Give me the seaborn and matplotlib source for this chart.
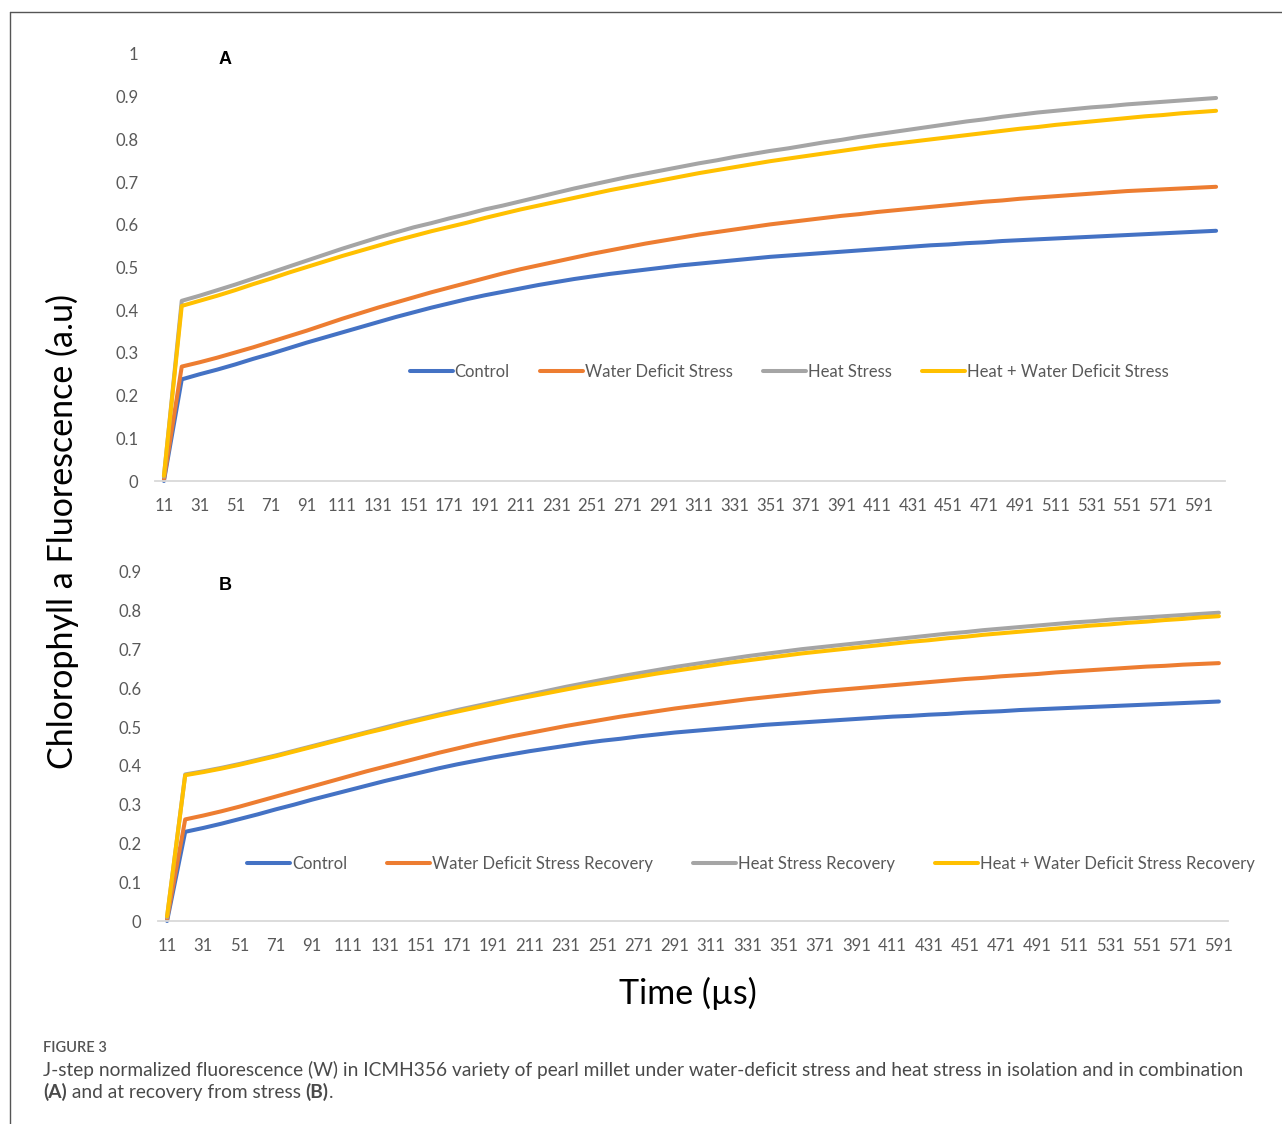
import matplotlib
matplotlib.use("Agg")
import matplotlib.pyplot as plt
import pandas as pd
import seaborn as sns
from matplotlib.lines import Line2D

# ---- data -----------------------------------------------------------------
time_a = list(range(11, 602, 10))   # 11 ... 601 µs
time_b = list(range(11, 592, 10))   # 11 ... 591 µs
tick_values = list(range(11, 592, 20))

series_a = ["Control", "Water Deficit Stress", "Heat Stress",
            "Heat + Water Deficit Stress"]
series_b = ["Control", "Water Deficit Stress Recovery", "Heat Stress Recovery",
            "Heat + Water Deficit Stress Recovery"]

control_a = [0.000, 0.238, 0.250, 0.261, 0.273, 0.286, 0.298, 0.311, 0.324, 0.336,
             0.348, 0.360, 0.372, 0.384, 0.395, 0.406, 0.416, 0.426, 0.435, 0.443,
             0.451, 0.459, 0.466, 0.473, 0.479, 0.485, 0.490, 0.495, 0.500, 0.505,
             0.509, 0.513, 0.517, 0.521, 0.525, 0.528, 0.531, 0.534, 0.537, 0.540,
             0.543, 0.546, 0.549, 0.552, 0.554, 0.557, 0.559, 0.562, 0.564, 0.566,
             0.568, 0.570, 0.572, 0.574, 0.576, 0.578, 0.580, 0.582, 0.584, 0.586]
water_a = [0.003, 0.268, 0.278, 0.289, 0.301, 0.313, 0.326, 0.339, 0.352, 0.366,
           0.380, 0.393, 0.406, 0.418, 0.430, 0.442, 0.453, 0.464, 0.475, 0.486,
           0.496, 0.505, 0.514, 0.523, 0.532, 0.540, 0.548, 0.556, 0.563, 0.570,
           0.577, 0.583, 0.589, 0.595, 0.601, 0.606, 0.611, 0.616, 0.621, 0.625,
           0.630, 0.634, 0.638, 0.642, 0.646, 0.650, 0.654, 0.657, 0.661, 0.664,
           0.667, 0.670, 0.673, 0.676, 0.679, 0.681, 0.683, 0.685, 0.687, 0.689]
heat_a = [0.010, 0.422, 0.434, 0.447, 0.460, 0.474, 0.488, 0.502, 0.516, 0.530,
          0.544, 0.557, 0.570, 0.582, 0.594, 0.604, 0.615, 0.625, 0.636, 0.645,
          0.655, 0.665, 0.675, 0.685, 0.694, 0.703, 0.712, 0.720, 0.728, 0.736,
          0.744, 0.751, 0.759, 0.766, 0.773, 0.779, 0.786, 0.793, 0.799, 0.806,
          0.812, 0.818, 0.824, 0.830, 0.836, 0.842, 0.847, 0.853, 0.858, 0.863,
          0.867, 0.871, 0.875, 0.878, 0.882, 0.885, 0.888, 0.891, 0.894, 0.897]
heat_water_a = [0.012, 0.410, 0.422, 0.434, 0.447, 0.461, 0.474, 0.488, 0.501, 0.514,
                0.527, 0.539, 0.551, 0.563, 0.574, 0.585, 0.595, 0.605, 0.616, 0.626,
                0.636, 0.645, 0.654, 0.663, 0.672, 0.681, 0.689, 0.697, 0.705, 0.713,
                0.721, 0.728, 0.735, 0.742, 0.749, 0.755, 0.761, 0.767, 0.773, 0.779,
                0.785, 0.790, 0.795, 0.800, 0.805, 0.810, 0.815, 0.820, 0.825, 0.829,
                0.834, 0.838, 0.842, 0.846, 0.850, 0.854, 0.857, 0.861, 0.864, 0.867]

control_b = [0.000, 0.230, 0.240, 0.251, 0.263, 0.275, 0.288, 0.300, 0.313, 0.325,
             0.337, 0.349, 0.361, 0.372, 0.383, 0.394, 0.404, 0.413, 0.422, 0.430,
             0.438, 0.445, 0.452, 0.459, 0.465, 0.470, 0.476, 0.481, 0.486, 0.490,
             0.494, 0.498, 0.502, 0.506, 0.509, 0.512, 0.515, 0.518, 0.521, 0.524,
             0.527, 0.529, 0.532, 0.534, 0.537, 0.539, 0.541, 0.544, 0.546, 0.548,
             0.550, 0.552, 0.554, 0.556, 0.558, 0.560, 0.562, 0.564, 0.566]
water_b = [0.005, 0.262, 0.272, 0.283, 0.295, 0.308, 0.321, 0.334, 0.347, 0.360,
           0.373, 0.386, 0.398, 0.410, 0.422, 0.434, 0.445, 0.456, 0.466, 0.476,
           0.485, 0.494, 0.503, 0.511, 0.519, 0.527, 0.534, 0.541, 0.548, 0.554,
           0.560, 0.566, 0.572, 0.577, 0.582, 0.587, 0.592, 0.596, 0.600, 0.604,
           0.608, 0.612, 0.616, 0.620, 0.624, 0.627, 0.631, 0.634, 0.637, 0.641,
           0.644, 0.647, 0.650, 0.653, 0.656, 0.658, 0.661, 0.663, 0.665]
heat_b = [0.010, 0.378, 0.386, 0.395, 0.405, 0.416, 0.427, 0.439, 0.451, 0.463,
          0.475, 0.487, 0.499, 0.511, 0.522, 0.533, 0.544, 0.554, 0.564, 0.574,
          0.584, 0.594, 0.604, 0.613, 0.622, 0.631, 0.639, 0.647, 0.655, 0.662,
          0.669, 0.676, 0.683, 0.689, 0.695, 0.701, 0.706, 0.711, 0.716, 0.721,
          0.726, 0.731, 0.736, 0.741, 0.745, 0.750, 0.754, 0.758, 0.762, 0.766,
          0.770, 0.773, 0.777, 0.780, 0.783, 0.786, 0.789, 0.792, 0.795]
heat_water_b = [0.012, 0.376, 0.384, 0.393, 0.403, 0.414, 0.425, 0.437, 0.449, 0.461,
                0.473, 0.485, 0.496, 0.508, 0.519, 0.530, 0.540, 0.550, 0.560, 0.570,
                0.579, 0.588, 0.597, 0.606, 0.614, 0.622, 0.630, 0.638, 0.645, 0.652,
                0.659, 0.666, 0.672, 0.678, 0.684, 0.690, 0.695, 0.700, 0.705, 0.710,
                0.715, 0.720, 0.724, 0.729, 0.733, 0.738, 0.742, 0.746, 0.750, 0.754,
                0.758, 0.762, 0.765, 0.769, 0.772, 0.776, 0.779, 0.783, 0.786]

colors = ["#4472C4", "#ED7D31", "#A5A5A5", "#FFC000"]

# ---- style ----------------------------------------------------------------
sns.set_theme(style="white")
plt.rcParams["font.family"] = ["Lato", "DejaVu Sans"]
TICK_COLOR = "#595959"
LW = 2.9


def long_frame(times, names, columns):
    rows = []
    for name, values in zip(names, columns):
        for t, v in zip(times, values):
            rows.append({"time": t, "value": v, "series": name})
    return pd.DataFrame(rows)


def draw_panel(ax, times, names, columns, ymax, yticks, xlim):
    df = long_frame(times, names, columns)
    sns.lineplot(data=df, x="time", y="value", hue="series", hue_order=names,
                 palette=colors, linewidth=LW, estimator=None, sort=False,
                 legend=False, ax=ax)
    for line in ax.get_lines():
        line.set_solid_capstyle("round")
        line.set_solid_joinstyle("round")
        line.set_clip_on(False)
    ax.set_xlim(*xlim)
    ax.set_ylim(0, ymax)
    ax.set_xticks(tick_values)
    ax.set_xticklabels([str(v) for v in tick_values])
    ax.set_yticks(yticks)
    ax.set_yticklabels([f"{v:g}" for v in yticks])
    ax.set_xlabel("")
    ax.set_ylabel("")
    for side in ("top", "right", "left"):
        ax.spines[side].set_visible(False)
    ax.spines["bottom"].set_color("#d9d9d9")
    ax.spines["bottom"].set_linewidth(1.3)
    ax.tick_params(axis="both", length=0, labelsize=12, labelcolor=TICK_COLOR)
    ax.tick_params(axis="x", pad=12)
    ax.tick_params(axis="y", pad=12)


W, H = 1282, 1124
fig = plt.figure(figsize=(W / 100, H / 100), dpi=100)


def fx(px):
    return px / W


def fy(py):
    return 1 - py / H


ax_a = fig.add_axes([fx(155), fy(481), fx(1225) - fx(155), fy(54) - fy(481)])
ax_b = fig.add_axes([fx(158), fy(921), fx(1228) - fx(158), fy(572) - fy(921)])

draw_panel(ax_a, time_a, series_a, [control_a, water_a, heat_a, heat_water_a],
           1.0, [round(0.1 * i, 1) for i in range(11)], (6, 606))
draw_panel(ax_b, time_b, series_b, [control_b, water_b, heat_b, heat_water_b],
           0.9, [round(0.1 * i, 1) for i in range(10)], (6, 596))

# legends
for ax, names, cx, cy, spacing in ((ax_a, series_a, 789, 372, 1.8),
                                   (ax_b, series_b, 751, 864, 2.4)):
    handles = [Line2D([], [], color=c, lw=LW, solid_capstyle="round") for c in colors]
    leg = ax.legend(handles, names, loc="center", ncol=4, frameon=False,
                    bbox_to_anchor=(fx(cx), fy(cy)), bbox_transform=fig.transFigure,
                    fontsize=12, handlelength=2.6, handletextpad=0.1,
                    columnspacing=spacing, borderaxespad=0)
    for txt in leg.get_texts():
        txt.set_color(TICK_COLOR)

# panel letters
for lab, py in (("A", 59), ("B", 586)):
    fig.text(fx(225), fy(py), lab, ha="center", va="center", fontsize=13,
             fontweight="bold", color="black", family=["Liberation Sans", "DejaVu Sans"])

# shared axis titles
fig.text(fx(62), fy(532), "Chlorophyll a Fluorescence (a.u)", rotation=90,
         ha="center", va="center", fontsize=24.5, color="black")
fig.text(fx(688), fy(993), "Time (µs)", ha="center", va="center",
         fontsize=24.5, color="black")

# figure caption
CAP = "#4a4a4a"
CAP_SIZE = 13.8
fig.text(fx(43), fy(1048), "FIGURE 3", ha="left", va="center", fontsize=10.5,
         color="#555555", fontweight="semibold")
fig.text(fx(43), fy(1070),
         "J-step normalized fluorescence (W) in ICMH356 variety of pearl millet under "
         "water-deficit stress and heat stress in isolation and in combination",
         ha="left", va="center", fontsize=CAP_SIZE, color=CAP)
t1 = fig.text(fx(43), fy(1092), "(A)", ha="left", va="center", fontsize=CAP_SIZE,
              color=CAP, fontweight="bold")
a2 = ax_b.annotate(" and at recovery from stress ", xy=(1, 0), xycoords=t1,
                   ha="left", va="bottom", fontsize=CAP_SIZE, color=CAP,
                   annotation_clip=False)
a3 = ax_b.annotate("(B)", xy=(1, 0), xycoords=a2, ha="left", va="bottom",
                   fontsize=CAP_SIZE, color=CAP, fontweight="bold",
                   annotation_clip=False)
ax_b.annotate(".", xy=(1, 0), xycoords=a3, ha="left", va="bottom",
              fontsize=CAP_SIZE, color=CAP, annotation_clip=False)

# frame lines along the top and left edges
fig.add_artist(Line2D([fx(10), 1], [fy(12), fy(12)], color="#555555", lw=1,
                      transform=fig.transFigure))
fig.add_artist(Line2D([fx(10), fx(10)], [fy(12), 0], color="#555555", lw=1,
                      transform=fig.transFigure))

fig.savefig("out.png", dpi=100, facecolor="white")
